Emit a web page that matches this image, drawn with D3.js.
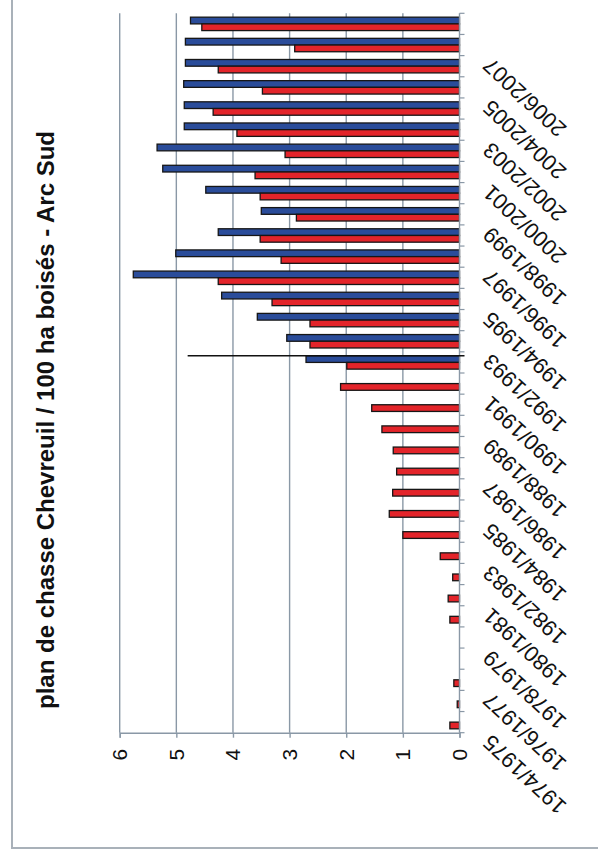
<!DOCTYPE html>
<html>
<head>
<meta charset="utf-8">
<script src="https://cdn.jsdelivr.net/npm/d3@7"></script>
<style>
  html, body { margin: 0; padding: 0; background: #ffffff; }
  svg { display: block; }
</style>
</head>
<body>
<script>
// ---- data ----
const title = "plan de chasse Chevreuil / 100 ha boisés - Arc Sud";
const categories = [
  "1974/1975","1975/1976","1976/1977","1977/1978","1978/1979","1979/1980",
  "1980/1981","1981/1982","1982/1983","1983/1984","1984/1985","1985/1986",
  "1986/1987","1987/1988","1988/1989","1989/1990","1990/1991","1991/1992",
  "1992/1993","1993/1994","1994/1995","1995/1996","1996/1997","1997/1998",
  "1998/1999","1999/2000","2000/2001","2001/2002","2002/2003","2003/2004",
  "2004/2005","2005/2006","2006/2007","2007/2008"
];
const tickLabels = [
  "1974/1975","1976/1977","1978/1979","1980/1981","1982/1983","1984/1985",
  "1986/1987","1988/1989","1990/1991","1992/1993","1994/1995","1996/1997",
  "1998/1999","2000/2001","2002/2003","2004/2005","2006/2007"
];
const seriesNames = ["attribution", "realisation"];
const attribution = [
  null,null,null,null,null,null,null,null,null,null,null,null,
  null,null,null,null,null,2.71,3.05,3.57,4.20,5.76,5.01,4.26,
  3.50,4.48,5.24,5.34,4.86,4.86,4.87,4.84,4.84,4.75
];
const realisation = [
  0.17,0.04,0.10,0,0,0.17,0.20,0.12,0.34,1.00,1.24,1.18,
  1.11,1.17,1.37,1.55,2.10,1.99,2.64,2.64,3.31,4.26,3.15,3.52,
  2.88,3.52,3.61,3.08,3.93,4.35,3.48,4.26,2.91,4.55
];
const valueTicks = [0,1,2,3,4,5,6];
const markerCategory = "1991/1992";
const markerValue = 4.8;
const seriesColors = ["#2a4c9a", "#e3242a"];

// ---- layout ----
const W = 598, H = 855;
const plot = { left: 119.7, right: 459.5, top: 13.3, bottom: 732.7 };

const svg = d3.select("body").append("svg")
  .attr("width", W).attr("height", H)
  .style("font-family", "'Liberation Sans', Arial, sans-serif");

// frame lines
svg.append("line").attr("x1", 12).attr("x2", 12).attr("y1", 0).attr("y2", 849)
  .attr("stroke", "#a9b1b9").attr("stroke-width", 2);
svg.append("line").attr("x1", 11).attr("x2", W).attr("y1", 848).attr("y2", 848)
  .attr("stroke", "#a9b1b9").attr("stroke-width", 2);

const x = d3.scaleLinear().domain([0, 6]).range([plot.right, plot.left]);
const y = d3.scaleBand().domain(categories.slice().reverse())
  .range([plot.top, plot.bottom]).paddingInner(0.366).paddingOuter(0.183);
const ySub = d3.scaleBand().domain(seriesNames).range([0, y.bandwidth()]);

// gridlines
svg.append("g").selectAll("line").data(valueTicks.filter(v => v > 0)).join("line")
  .attr("x1", d => x(d)).attr("x2", d => x(d))
  .attr("y1", plot.top).attr("y2", plot.bottom)
  .attr("stroke", "#8a98a6").attr("stroke-width", 1.4);

// value axis (bottom)
const xAxis = d3.axisBottom(x).tickValues(valueTicks).tickSize(5).tickFormat("");
const gx = svg.append("g").attr("transform", `translate(0,${plot.bottom})`).call(xAxis);
gx.select(".domain").attr("stroke", "#8a98a6").attr("stroke-width", 1.4);
gx.selectAll(".tick line").attr("stroke", "#8a98a6").attr("stroke-width", 1.4);
svg.append("g").selectAll("text").data(valueTicks).join("text")
  .attr("transform", d => `translate(${x(d)},${plot.bottom + 22}) rotate(-90)`)
  .attr("text-anchor", "middle").attr("dy", "0.35em")
  .attr("font-size", 21).attr("fill", "#111")
  .text(d => d);

// bars
const data = categories.map((c, i) => ({ cat: c, vals: [
  { s: seriesNames[0], v: attribution[i], color: seriesColors[0] },
  { s: seriesNames[1], v: realisation[i], color: seriesColors[1] }
]}));
const groups = svg.append("g").selectAll("g").data(data).join("g")
  .attr("transform", d => `translate(0,${y(d.cat)})`);
groups.selectAll("rect").data(d => d.vals.filter(e => e.v !== null && e.v > 0)).join("rect")
  .attr("x", d => x(d.v)).attr("y", d => ySub(d.s))
  .attr("width", d => x(0) - x(d.v)).attr("height", ySub.bandwidth())
  .attr("fill", d => d.color).attr("stroke", "#161616").attr("stroke-width", 1.3);

// category axis (right side)
const boundaries = d3.range(categories.length + 1).map(i => plot.top + i * y.step());
svg.append("g").selectAll("line").data(boundaries).join("line")
  .attr("x1", plot.right).attr("x2", plot.right + 5)
  .attr("y1", d => d).attr("y2", d => d)
  .attr("stroke", "#8a98a6").attr("stroke-width", 1.2);
svg.append("line").attr("x1", plot.right).attr("x2", plot.right)
  .attr("y1", plot.top).attr("y2", plot.bottom)
  .attr("stroke", "#8a98a6").attr("stroke-width", 1.4);

// category labels
svg.append("g").selectAll("text").data(tickLabels).join("text")
  .attr("transform", d => `translate(${plot.right + 27},${y(d) + y.bandwidth() / 2 + 17}) rotate(-137)`)
  .attr("text-anchor", "end").attr("dy", "0.35em")
  .attr("font-size", 22).attr("fill", "#111")
  .text(d => d);

// marker line
svg.append("line")
  .attr("x1", x(markerValue)).attr("x2", plot.right + 5)
  .attr("y1", y(markerCategory)).attr("y2", y(markerCategory))
  .attr("stroke", "#111").attr("stroke-width", 1.6);

// title
svg.append("text")
  .attr("transform", `translate(46,420) rotate(-90)`)
  .attr("text-anchor", "middle").attr("dy", "0.35em")
  .attr("font-size", 24).attr("font-weight", "bold").attr("fill", "#111")
  .text(title);
</script>
</body>
</html>
